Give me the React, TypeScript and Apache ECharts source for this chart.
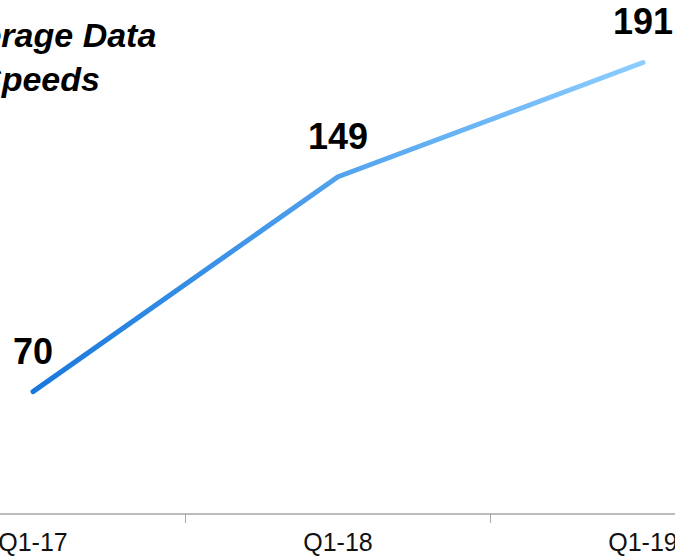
import React, { useEffect, useRef } from "react";
import * as echarts from "echarts";

// Quarterly average data speeds
const quarters = ["Q1-17", "Q1-18", "Q1-19"];
const speeds = [70, 149, 191];
const titleLines = ["Average Data", "Speeds"];

const FONT = "'Liberation Sans', Arial, Helvetica, sans-serif";

export default function App() {
  const ref = useRef<HTMLDivElement>(null);

  useEffect(() => {
    if (!ref.current) return;
    const chart = echarts.init(ref.current, null, { renderer: "svg" });
    chart.setOption({
      animation: false,
      backgroundColor: "#ffffff",
      grid: { left: 80.5, width: 915, top: 38, bottom: 42 },
      graphic: [
        {
          type: "text",
          left: 139,
          top: 18,
          style: {
            text: titleLines[0],
            font: `italic bold 34px ${FONT}`,
            fill: "#000000",
          },
        },
        {
          type: "text",
          left: 179,
          top: 62,
          style: {
            text: titleLines[1],
            font: `italic bold 34px ${FONT}`,
            fill: "#000000",
          },
        },
      ],
      xAxis: {
        type: "category",
        data: quarters,
        boundaryGap: true,
        axisLine: { onZero: false, lineStyle: { color: "#a6a6a6", width: 1.5 } },
        axisTick: { show: true, length: 9, lineStyle: { color: "#a6a6a6" } },
        axisLabel: {
          margin: 15,
          fontFamily: FONT,
          fontSize: 25,
          color: "#111111",
        },
        splitLine: { show: false },
      },
      yAxis: {
        type: "value",
        min: 25,
        max: 200,
        show: false,
        splitLine: { show: false },
      },
      series: [
        {
          type: "line",
          data: speeds,
          symbol: "circle",
          symbolSize: 1,
          showSymbol: true,
          itemStyle: { color: "rgba(0,0,0,0)" },
          lineStyle: {
            width: 5,
            cap: "round",
            join: "round",
            color: new echarts.graphic.LinearGradient(0, 0, 1, 0, [
              { offset: 0, color: "#1878dc" },
              { offset: 1, color: "#8ccdff" },
            ]),
          },
          label: {
            show: true,
            position: "top",
            distance: 22,
            fontFamily: FONT,
            fontWeight: "bold",
            fontSize: 36,
            color: "#000000",
          },
        },
      ],
    });
    return () => chart.dispose();
  }, []);

  return (
    <div
      style={{
        position: "fixed",
        left: 0,
        top: 0,
        width: 675,
        height: 556,
        overflow: "hidden",
        background: "#ffffff",
      }}
    >
      <div
        ref={ref}
        style={{ position: "absolute", left: -200, top: 0, width: 1100, height: 556 }}
      />
    </div>
  );
}
